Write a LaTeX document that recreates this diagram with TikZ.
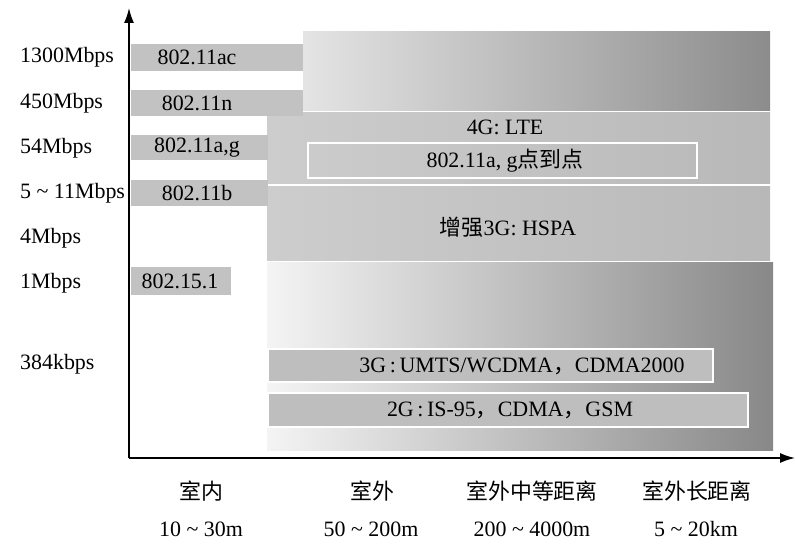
\documentclass[tikz,border=0pt]{standalone}
\usepackage{fontspec}
\setmainfont{Liberation Serif}
\newfontfamily\cjk{Noto Sans CJK SC}
\usetikzlibrary{arrows.meta}
\definecolor{barG}{HTML}{C2C2C2}
\definecolor{topL}{HTML}{E4E4E4}
\definecolor{topR}{HTML}{8C8C8C}
\definecolor{midL}{HTML}{CDCDCD}
\definecolor{midR}{HTML}{B8B8B8}
\definecolor{lowL}{HTML}{F4F4F4}
\definecolor{lowR}{HTML}{888888}
\definecolor{boxG}{HTML}{BEBEBE}
\begin{document}
\begin{tikzpicture}[x=1bp,y=-1bp,
  txt/.style={font=\fontsize{22}{26}\selectfont, inner sep=0pt},
  cjktxt/.style={font=\cjk\fontsize{22}{26}\selectfont, inner sep=0pt},
  area/.style={draw=none, inner sep=0pt, outer sep=0pt},
  bar/.style={area, fill=barG},
  netbox/.style={area, fill=boxG, draw=white, line width=2bp},
  axis/.style={line width=1.5bp, -{Latex[length=15bp,width=10bp]}}
]
\useasboundingbox (0,0) rectangle (795,553);

% shaded range regions
\node[area, left color=topL, right color=topR, minimum width=467bp, minimum height=79bp] (wlanfar) at (536.5,71.5) {};
\node[area, left color=midL, right color=midR, minimum width=503bp, minimum height=71bp] (lte) at (518.5,148.5) {};
\node[area, left color=midL, right color=midR, minimum width=503bp, minimum height=73bp] (hspa) at (518.5,223.5) {};
\node[area, left color=lowL, right color=lowR, minimum width=506bp, minimum height=187bp] (cell) at (520,356.5) {};

% local standards
\node[bar, minimum width=172bp, minimum height=27bp] (ac) at (217,57.5) {};
\node[bar, minimum width=172bp, minimum height=26bp] (n) at (217,103) {};
\node[bar, minimum width=137bp, minimum height=25bp] (ag) at (199.5,147.5) {};
\node[bar, minimum width=137bp, minimum height=26bp] (b) at (199.5,193) {};
\node[bar, minimum width=100bp, minimum height=28bp] (bt) at (181,281) {};
\node[txt] (acT) at (197,57) {802.11ac};
\node[txt] (nT) at (197,103) {802.11n};
\node[txt] (agT) at (197,148) {802.11a,g};
\node[txt] (bT) at (197,193) {802.11b};
\node[txt] (btT) at (180,281) {802.15.1};

% cellular and point-to-point boxes
\node[area, draw=white, line width=2.5bp, minimum width=389bp, minimum height=35bp] (p2p) at (502.5,160.5) {};
\node[netbox, minimum width=445bp, minimum height=33bp] (g3) at (490.5,365.5) {};
\node[netbox, minimum width=480bp, minimum height=34bp] (g2) at (508,410) {};
\node[txt] (lteT) at (505,127) {4G: LTE};
\node[txt] (p2pT) at (505,161) {802.11a, g{\cjk 点到点}};
\node[txt] (hspaT) at (508,227) {{\cjk 增强}3G: HSPA};
\node[txt] (g3T) at (522,366) {3G\,:\,UMTS/WCDMA{\cjk ，}CDMA2000};
\node[txt] (g2T) at (510,410) {2G\,:\,IS-95{\cjk ，}CDMA{\cjk ，}GSM};

% axes
\coordinate (o) at (129,458);
\coordinate (ytop) at (129,8);
\coordinate (xend) at (795,458);
\draw[axis] (o) -- (ytop);
\draw[axis] (o) -- (xend);

% rate labels
\node[txt, anchor=west] (r1) at (20,57) {1300Mbps};
\node[txt, anchor=west] (r2) at (20,103) {450Mbps};
\node[txt, anchor=west] (r3) at (20,148) {54Mbps};
\node[txt, anchor=west] (r4) at (20,193) {5 \textasciitilde\ 11Mbps};
\node[txt, anchor=west] (r5) at (20,238) {4Mbps};
\node[txt, anchor=west] (r6) at (20,283) {1Mbps};
\node[txt, anchor=west] (r7) at (20,364) {384kbps};

% range labels
\node[cjktxt] (d1) at (201,491) {室内};
\node[cjktxt] (d2) at (372,491) {室外};
\node[cjktxt] (d3) at (532,491) {室外中等距离};
\node[cjktxt] (d4) at (697,491) {室外长距离};
\node[txt] (m1) at (201,529) {10 \textasciitilde\ 30m};
\node[txt] (m2) at (371,529) {50 \textasciitilde\ 200m};
\node[txt] (m3) at (532,529) {200 \textasciitilde\ 4000m};
\node[txt] (m4) at (696,529) {5 \textasciitilde\ 20km};
\end{tikzpicture}
\end{document}
